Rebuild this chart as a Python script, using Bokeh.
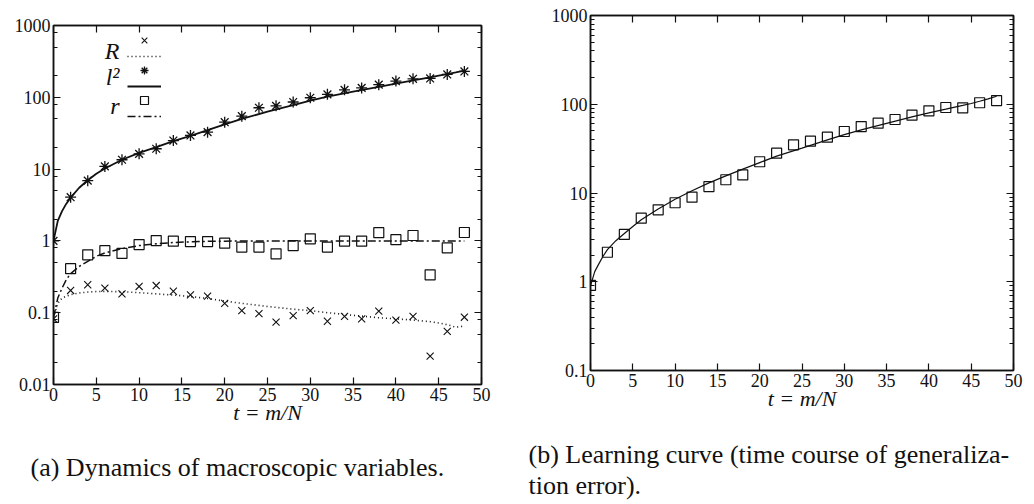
from bokeh.plotting import figure
from bokeh.models import (FixedTicker, LogAxis, LinearAxis, Legend, LegendItem,
                          Label, Title, Range1d, CustomJSTickFormatter)
from bokeh.layouts import row
from bokeh.embed import file_html
from bokeh.resources import INLINE

# ---- simulation points (every 2 units of t = m/N) ----
t_pts = [0, 2, 4, 6, 8, 10, 12, 14, 16, 18, 20, 22, 24,
         26, 28, 30, 32, 34, 36, 38, 40, 42, 44, 46, 48]

R_pts = [0.082, 0.204, 0.245, 0.22, 0.183, 0.232, 0.239, 0.199, 0.177, 0.17,
         0.135, 0.107, 0.097, 0.074, 0.091, 0.107, 0.076, 0.089, 0.082, 0.105,
         0.079, 0.089, 0.0248, 0.055, 0.0865]

l2_pts = [1.0, 4.06, 6.9, 10.9, 13.5, 16.3, 19.2, 25.0, 29.4, 32.7,
          45.0, 54.6, 71.5, 76.0, 86.0, 98.5, 110.0, 127.0, 135.0, 150.0,
          168.0, 181.0, 183.0, 208.0, 229.0]

r_pts = [0.086, 0.41, 0.64, 0.73, 0.67, 0.89, 1.01, 0.99, 0.98, 0.98,
         0.93, 0.82, 0.82, 0.66, 0.86, 1.07, 0.82, 0.99, 0.99, 1.30,
         1.04, 1.19, 0.337, 0.80, 1.31]

eg_pts = [0.91, 2.15, 3.41, 5.2, 6.47, 7.76, 8.97, 11.8, 14.1, 16.0,
          22.5, 28.1, 34.9, 38.4, 42.6, 49.3, 56.1, 61.2, 67.3, 75.3,
          84.4, 91.9, 91.2, 104.0, 110.0]

# ---- theoretical curves ----
t_curve = [0, 0.5, 1, 1.5, 2, 3, 4, 5, 6, 8, 10, 12, 14, 16, 18, 20, 22,
           25, 28, 30, 32, 35, 38, 40, 42, 44, 45, 46, 47, 48]

R_curve = [0.085, 0.135, 0.16, 0.17, 0.178, 0.188, 0.194, 0.197, 0.198, 0.196,
           0.19, 0.183, 0.176, 0.168, 0.158, 0.145, 0.135, 0.122, 0.112, 0.107,
           0.1, 0.092, 0.085, 0.082, 0.079, 0.075, 0.072, 0.068, 0.063, 0.065]

l2_curve = [1.0, 1.9, 2.6, 3.3, 4.0, 5.5, 7.0, 8.6, 10.2, 13.5,
            16.8, 20.2, 24.5, 29.0, 35.0, 42.0, 50.0, 63.0, 78.0, 90.0,
            102.0, 120.0, 140.0, 155.0, 172.0, 190.0, 200.0, 210.0, 222.0, 235.0]

r_curve = [0.085, 0.16, 0.22, 0.29, 0.35, 0.44, 0.52, 0.61, 0.68, 0.78,
           0.86, 0.91, 0.95, 0.97, 0.985, 0.99, 1.0, 1.0, 1.0, 1.0,
           1.0, 1.0, 1.0, 1.0, 1.0, 1.0, 1.0, 1.0, 1.0, 1.0]

eg_curve = [0.9, 1.3, 1.6, 1.95, 2.3, 2.9, 3.5, 4.2, 5.0, 6.6,
            8.5, 10.6, 13.0, 15.6, 18.6, 22.0, 26.0, 32.0, 39.7, 45.5,
            51.5, 61.0, 72.0, 80.0, 88.0, 97.0, 102.0, 108.0, 115.0, 123.0]

# ---- axes ----
x_ticks = [0, 5, 10, 15, 20, 25, 30, 35, 40, 45, 50]
y_ticks_a = [0.01, 0.1, 1, 10, 100, 1000]
y_labels_a = ["0.01", "0.1", "1", "10", "100", "1000"]
y_ticks_b = [0.1, 1, 10, 100, 1000]
y_labels_b = ["0.1", "1", "10", "100", "1000"]

minor_a = [m * 10.0 ** k for k in range(-2, 3) for m in (2, 5, 8)]
minor_b = [m * 10.0 ** k for k in range(-1, 3) for m in range(2, 10)]

SERIF = "Liberation Serif"
INK = "#111111"


def tick_text(values, labels):
    return CustomJSTickFormatter(args=dict(tv=values, tl=labels), code="""
        for (let i = 0; i < tv.length; i++) {
            if (Math.abs(tv[i] - tick) <= 1e-9 * Math.max(1, Math.abs(tick))) {
                return tl[i];
            }
        }
        return "";
    """)


def style_axis(ax, show_labels=True):
    ax.axis_line_color = INK
    ax.axis_line_width = 1.5
    ax.major_tick_in = 7
    ax.major_tick_out = 0
    ax.minor_tick_in = 4
    ax.minor_tick_out = 0
    ax.major_tick_line_color = INK
    ax.minor_tick_line_color = INK
    ax.major_tick_line_width = 1.2
    ax.minor_tick_line_width = 1.0
    ax.major_label_text_font = SERIF
    ax.major_label_text_color = INK
    ax.major_label_text_font_size = "18px"
    ax.major_label_standoff = 3 if show_labels else 0
    if not show_labels:
        ax.formatter = CustomJSTickFormatter(code="return '';")


def make_panel(ys_ticks, ys_labels, ys_minor, y_lo, y_hi, border_left, border_right,
               fw, fh):
    p = figure(y_axis_type="log", x_range=Range1d(0, 50), y_range=Range1d(y_lo, y_hi),
               frame_width=fw, frame_height=fh, output_backend="svg",
               toolbar_location=None, min_border_left=border_left,
               min_border_right=border_right, min_border_top=25,
               min_border_bottom=0, background_fill_color="white",
               border_fill_color="white")
    p.grid.visible = False
    p.outline_line_color = INK
    p.outline_line_width = 1.5

    xa = p.xaxis[0]
    xa.ticker = FixedTicker(ticks=x_ticks, minor_ticks=[])
    style_axis(xa)
    xa.axis_label = "t = m/N"
    xa.axis_label_text_font = SERIF
    xa.axis_label_text_font_style = "italic"
    xa.axis_label_text_font_size = "22px"
    xa.axis_label_text_color = INK
    xa.axis_label_standoff = -4

    ya = p.yaxis[0]
    ya.ticker = FixedTicker(ticks=ys_ticks, minor_ticks=ys_minor)
    style_axis(ya)
    ya.formatter = tick_text(ys_ticks, ys_labels)

    top = LinearAxis(ticker=FixedTicker(ticks=x_ticks, minor_ticks=[]))
    style_axis(top, show_labels=False)
    p.add_layout(top, "above")

    right = LogAxis(ticker=FixedTicker(ticks=ys_ticks, minor_ticks=ys_minor))
    style_axis(right, show_labels=False)
    p.add_layout(right, "right")
    return p


def caption(p, text, offset, standoff):
    p.add_layout(Title(text=text, align="left", offset=offset, standoff=standoff,
                       text_font=SERIF, text_font_style="normal",
                       text_font_size="26px", text_line_height=1.08,
                       text_color=INK), "below")


def key_column(renderers, bottom):
    # one column of key samples (markers or lines), rows 30 px apart
    return Legend(items=[LegendItem(label=" ", renderers=[r]) for r in renderers],
                  location=(74, bottom), glyph_width=34, glyph_height=20,
                  label_height=20, spacing=10, padding=0, margin=0,
                  label_standoff=0, label_text_font_size="10px",
                  border_line_color=None, background_fill_alpha=0)


# ---- (a) macroscopic variables ----
pa = make_panel(y_ticks_a, y_labels_a, minor_a, 0.01, 1000, 53, 20, 428, 359)

R_line = pa.line(t_curve, R_curve, line_color=INK, line_width=1.6, line_dash="1 3")
l2_line = pa.line(t_curve, l2_curve, line_color=INK, line_width=1.8)
r_line = pa.line(t_curve, r_curve, line_color=INK, line_width=1.5, line_dash="8 3 2 3")

R_mk = pa.scatter(t_pts, R_pts, marker="x", size=10, line_color=INK, line_width=1.1)
l2_mk = pa.scatter(t_pts, l2_pts, marker="asterisk", size=11, line_color=INK,
                   line_width=1.3)
r_mk = pa.scatter(t_pts, r_pts, marker="square", size=10, fill_color=None,
                  line_color=INK, line_width=1.2)

pa.add_layout(key_column([R_mk, l2_mk, r_mk], 274))
pa.add_layout(key_column([R_line, l2_line, r_line], 258))

for name, ypos in (("R", 334), ("l²", 308), ("r", 279)):
    pa.add_layout(Label(x=66, y=ypos, x_units="screen", y_units="screen", text=name,
                        text_align="right", text_baseline="middle",
                        text_font=SERIF, text_font_style="italic",
                        text_font_size="24px", text_color=INK))

caption(pa, "(a) Dynamics of macroscopic variables.", -23, 46)

# ---- (b) learning curve ----
pb = make_panel(y_ticks_b, y_labels_b, minor_b, 0.1, 1000, 89, 21, 423, 355)
pb.margin = (-10, 0, 0, 0)
pb.line(t_curve, eg_curve, line_color=INK, line_width=1.2)
pb.scatter(t_pts, eg_pts, marker="square", size=10, fill_color=None,
           line_color=INK, line_width=1.2)

caption(pb, "(b) Learning curve (time course of generaliza-\ntion error).", -62, 50)

layout = row(pa, pb)
open("out.html", "w").write(file_html(layout, INLINE))
